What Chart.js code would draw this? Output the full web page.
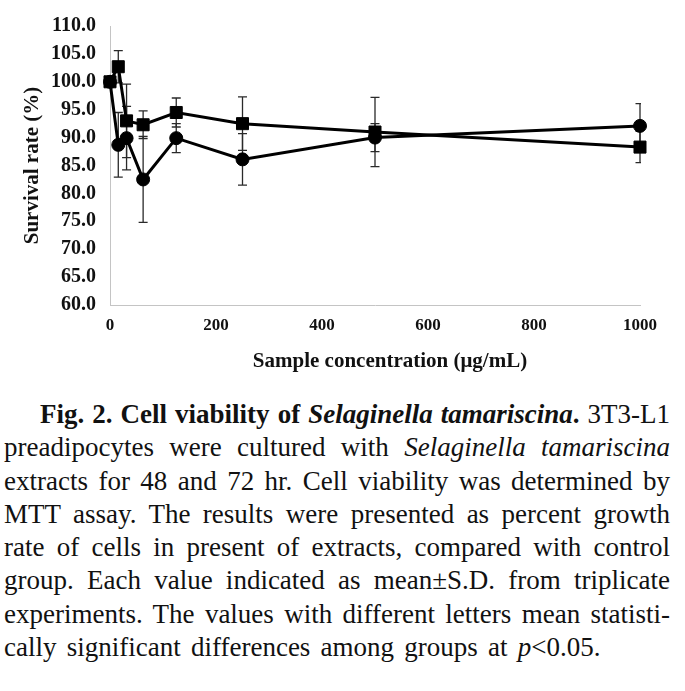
<!DOCTYPE html>
<html>
<head>
<meta charset="utf-8">
<script src="https://cdn.jsdelivr.net/npm/chart.js@4/dist/chart.umd.min.js"></script>
<style>
  html, body { margin: 0; padding: 0; background: #fff; }
  body { width: 685px; height: 691px; position: relative; overflow: hidden; }
  #chart { position: absolute; left: 0; top: 0; }
  #caption { position: absolute; left: 4px; top: 398px; width: 666px;
    font-family: "Liberation Serif", "Times New Roman", serif; font-size: 27px; color: #111; }
  #caption .ln { height: 33.3px; line-height: 33.3px; text-align: justify; text-align-last: justify; }
  #caption .ln.last { text-align: left; text-align-last: left; word-spacing: 3.5px; }
  #caption .ln.first { text-indent: 36px; }
</style>
</head>
<body>
<canvas id="chart" width="685" height="380"></canvas>
<div id="caption">
  <div class="ln first"><b>Fig. 2. Cell viability of <i>Selaginella tamariscina</i>.</b> 3T3-L1</div>
  <div class="ln">preadipocytes were cultured with <i>Selaginella tamariscina</i></div>
  <div class="ln">extracts for 48 and 72 hr. Cell viability was determined by</div>
  <div class="ln">MTT assay. The results were presented as percent growth</div>
  <div class="ln">rate of cells in present of extracts, compared with control</div>
  <div class="ln">group. Each value indicated as mean±S.D. from triplicate</div>
  <div class="ln">experiments. The values with different letters mean statisti-</div>
  <div class="ln last">cally significant differences among groups at <i>p</i>&lt;0.05.</div>
</div>
<script>
// ---- data ----
const concentrations = [0, 15.625, 31.25, 62.5, 125, 250, 500, 1000];
const survival48 = [100.0, 88.7, 89.9, 82.5, 89.9, 86.1, 90.0, 92.1];   // circles
const sd48       = [0,     5.8,  5.7,  7.7,  2.6,  4.6,  2.5,  4.0];
const survival72 = [100.0, 102.7, 93.0, 92.3, 94.5, 92.5, 91.0, 88.3];  // squares
const sd72       = [0,     2.9,   6.6,  2.5,  2.6,  4.8,  6.2,  2.8];
const xTicks = [0, 200, 400, 600, 800, 1000];
const yTicks = [60, 65, 70, 75, 80, 85, 90, 95, 100, 105, 110];
const xTitle = 'Sample concentration (\u03bcg/mL)';
const yTitle = 'Survival rate (%)';

const FONT = '"Liberation Serif", "Times New Roman", serif';

const toPoints = (ys, sds) => concentrations.map((x, i) => ({ x: x, y: ys[i], sd: sds[i] }));

const errorBars = {
  id: 'errorBars',
  beforeDatasetsDraw(chart) {
    const { ctx, chartArea, scales } = chart;
    ctx.save();
    ctx.beginPath();
    ctx.rect(0, 0, chartArea.right + 1, chart.height);
    ctx.clip();
    ctx.strokeStyle = '#2a2a2a';
    ctx.lineWidth = 1.3;
    chart.data.datasets.forEach(ds => {
      ds.data.forEach(p => {
        if (!p.sd) return;
        const x = scales.x.getPixelForValue(p.x);
        const yt = scales.y.getPixelForValue(p.y + p.sd);
        const yb = scales.y.getPixelForValue(p.y - p.sd);
        const c = 4.5;
        ctx.beginPath();
        ctx.moveTo(x, yt); ctx.lineTo(x, yb);
        ctx.moveTo(x - c, yt); ctx.lineTo(x + c, yt);
        ctx.moveTo(x - c, yb); ctx.lineTo(x + c, yb);
        ctx.stroke();
      });
    });
    ctx.restore();
  }
};

const xTitlePlugin = {
  id: 'xTitlePlugin',
  afterDraw(chart) {
    const { ctx, chartArea } = chart;
    ctx.save();
    ctx.font = 'bold 21px ' + FONT;
    ctx.fillStyle = '#111';
    ctx.textAlign = 'center';
    ctx.textBaseline = 'middle';
    ctx.fillText(xTitle, (chartArea.left + chartArea.right) / 2 + 15, 362);
    ctx.restore();
  }
};

new Chart(document.getElementById('chart'), {
  type: 'line',
  data: {
    datasets: [
      {
        label: '48 hr',
        data: toPoints(survival48, sd48),
        borderColor: '#000', backgroundColor: '#000',
        borderWidth: 3, tension: 0, clip: false,
        pointStyle: 'circle', pointRadius: 6.5, pointBorderWidth: 1,
        pointBackgroundColor: '#000', pointBorderColor: '#000'
      },
      {
        label: '72 hr',
        data: toPoints(survival72, sd72),
        borderColor: '#000', backgroundColor: '#000',
        borderWidth: 3, tension: 0, clip: false,
        pointStyle: 'rect', pointRadius: 8.5, pointBorderWidth: 1,
        pointBackgroundColor: '#000', pointBorderColor: '#000'
      }
    ]
  },
  options: {
    responsive: false,
    animation: false,
    devicePixelRatio: 1,
    layout: { padding: { top: 23, right: 45, bottom: 0, left: 0 } },
    plugins: { legend: { display: false }, tooltip: { enabled: false } },
    scales: {
      x: {
        type: 'linear', min: 0, max: 1000,
        afterBuildTicks: s => { s.ticks = xTicks.map(v => ({ value: v })); },
        afterFit: s => { s.height = 75; },
        grid: { display: false, drawTicks: false },
        border: { display: true, color: '#c4c4c4', width: 1 },
        ticks: { color: '#111', padding: 10, maxRotation: 0,
          callback: v => String(v),
          font: { family: FONT, size: 17, weight: 'bold' } }
      },
      y: {
        type: 'linear', min: 60, max: 110,
        afterBuildTicks: s => { s.ticks = yTicks.map(v => ({ value: v })); },
        afterFit: s => { s.width = 110; },
        grid: { display: false, drawTicks: false },
        border: { display: true, color: '#c4c4c4', width: 1 },
        ticks: { color: '#111', padding: 14,
          callback: v => Number(v).toFixed(1),
          font: { family: FONT, size: 20, weight: 'bold' } },
        title: { display: true, text: yTitle, color: '#111',
          padding: { top: 20, bottom: 0 },
          font: { family: FONT, size: 21, weight: 'bold' } }
      }
    }
  },
  plugins: [errorBars, xTitlePlugin]
});
</script>
</body>
</html>
